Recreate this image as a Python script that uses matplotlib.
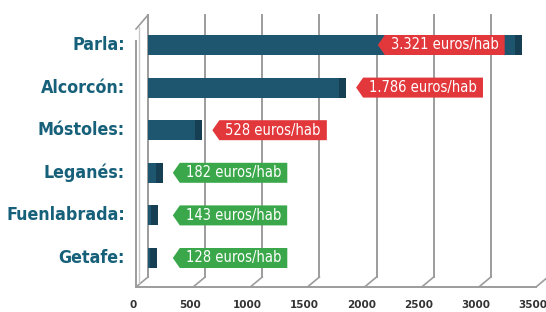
import matplotlib.pyplot as plt
import matplotlib.transforms as mtransforms
import matplotlib.lines as mlines
from matplotlib.patches import Polygon

municipios = ["Parla:", "Alcorcón:", "Móstoles:", "Leganés:", "Fuenlabrada:", "Getafe:"]
deuda = [3321, 1786, 528, 182, 143, 128]
etiquetas = ["3.321 euros/hab", "1.786 euros/hab", "528 euros/hab",
             "182 euros/hab", "143 euros/hab", "128 euros/hab"]
ticks_x = [0, 500, 1000, 1500, 2000, 2500, 3000, 3500]

azul = "#1e5670"
azul_osc = "#163f54"
rojo = "#e2383c"
verde = "#3aa84a"
gris = "#9c9c9c"
texto = "#17607a"

fig = plt.figure(figsize=(5.46, 3.12), dpi=100)
fig.patch.set_facecolor("white")
ax = fig.add_axes([148 / 546, 35 / 312, 400 / 546, 262 / 312])
ax.set_xlim(0, 3500)
ax.set_ylim(5.446, -0.704)
ax.axis("off")

xt = ax.get_xaxis_transform()
front_ax = mtransforms.offset_copy(xt, fig=fig, x=-12, y=-10, units="dots")
pix = mtransforms.IdentityTransform()

# rejilla del fondo
for t in ticks_x:
    ax.plot([t, t], [0, 1], color=gris, lw=1.4, transform=xt, clip_on=False, zorder=1)

# suelo: lineas inclinadas y linea frontal
y0 = ax.transAxes.transform((0, 0))[1]
for t in ticks_x:
    px = ax.transData.transform((t, 0))[0]
    fig.add_artist(mlines.Line2D([px, px - 12], [y0, y0 - 10],
                                 color=gris, lw=1.2, transform=None))
ax.plot([0, 3500], [0, 0], color=gris, lw=1.4, transform=front_ax, clip_on=False)

# pared izquierda
ax.plot([0, 0], [0, 0.94], color=gris, lw=1.4, transform=front_ax, clip_on=False)
p_top = ax.transAxes.transform((0, 1.0))
fig.add_artist(mlines.Line2D([p_top[0] - 12, p_top[0]], [p_top[1] - 14, p_top[1]],
                             color=gris, lw=1.2, transform=None))
fig.add_artist(mlines.Line2D([p_top[0] - 9, p_top[0] - 9], [p_top[1] - 12, y0 - 6],
                             color="#c8c8c8", lw=1.0, transform=None))

# barras (a media profundidad)
pos = list(range(len(municipios)))
bar_tr = mtransforms.offset_copy(ax.transData, fig=fig, x=-6, y=0, units="dots")
ax.barh(pos, deuda, height=0.47, color=azul, transform=bar_tr, zorder=3)
for i, v in enumerate(deuda):
    ax.barh(i, 60, left=v - 60, height=0.47, color=azul_osc, transform=bar_tr, zorder=3)

# etiquetas de valor (caja con punta a la izquierda)
mx, my = 6, 2.5
textos = []
for i, (v, lab) in enumerate(zip(deuda, etiquetas)):
    c = rojo if v > 500 else verde
    if v > 3000:
        tr = mtransforms.offset_copy(ax.transData, fig=fig, x=-mx, y=0, units="dots")
        t = ax.text(v - 200, i, lab, color="white", fontsize=10.5, ha="right", va="center",
                    fontstretch="condensed", zorder=6, transform=tr)
    else:
        tr = mtransforms.offset_copy(ax.transData, fig=fig, x=7 + mx, y=0, units="dots")
        t = ax.text(max(v, 182) + 35, i, lab, color="white", fontsize=10.5, ha="left",
                    va="center", fontstretch="condensed", zorder=6, transform=tr)
    textos.append((t, c))

fig.canvas.draw()
r = fig.canvas.get_renderer()
for t, c in textos:
    bb = t.get_window_extent(r)
    x0, x1 = bb.x0 - mx, bb.x1 + mx
    b0, b1 = bb.y0 - my, bb.y1 + my
    ym = (b0 + b1) / 2
    ax.add_patch(Polygon([[x0, b0], [x1, b0], [x1, b1], [x0, b1], [x0 - 7, ym]],
                         closed=True, fc=c, ec="none", transform=pix,
                         clip_on=False, zorder=5))

# nombres de municipios
nombres_tr = mtransforms.offset_copy(ax.transData, fig=fig, x=-23, y=0, units="dots")
for i, m in enumerate(municipios):
    ax.text(0, i, m, transform=nombres_tr, ha="right", va="center", fontsize=12.8,
            fontweight="bold", fontstretch="condensed", color=texto)

# eje x
tick_tr = mtransforms.offset_copy(xt, fig=fig, x=-15, y=-28, units="dots")
for t in ticks_x:
    ax.text(t, 0, str(t), transform=tick_tr, ha="center", va="center",
            fontsize=7.5, fontweight="bold", color="#333333")

fig.savefig("out.png", dpi=100, facecolor="white")
